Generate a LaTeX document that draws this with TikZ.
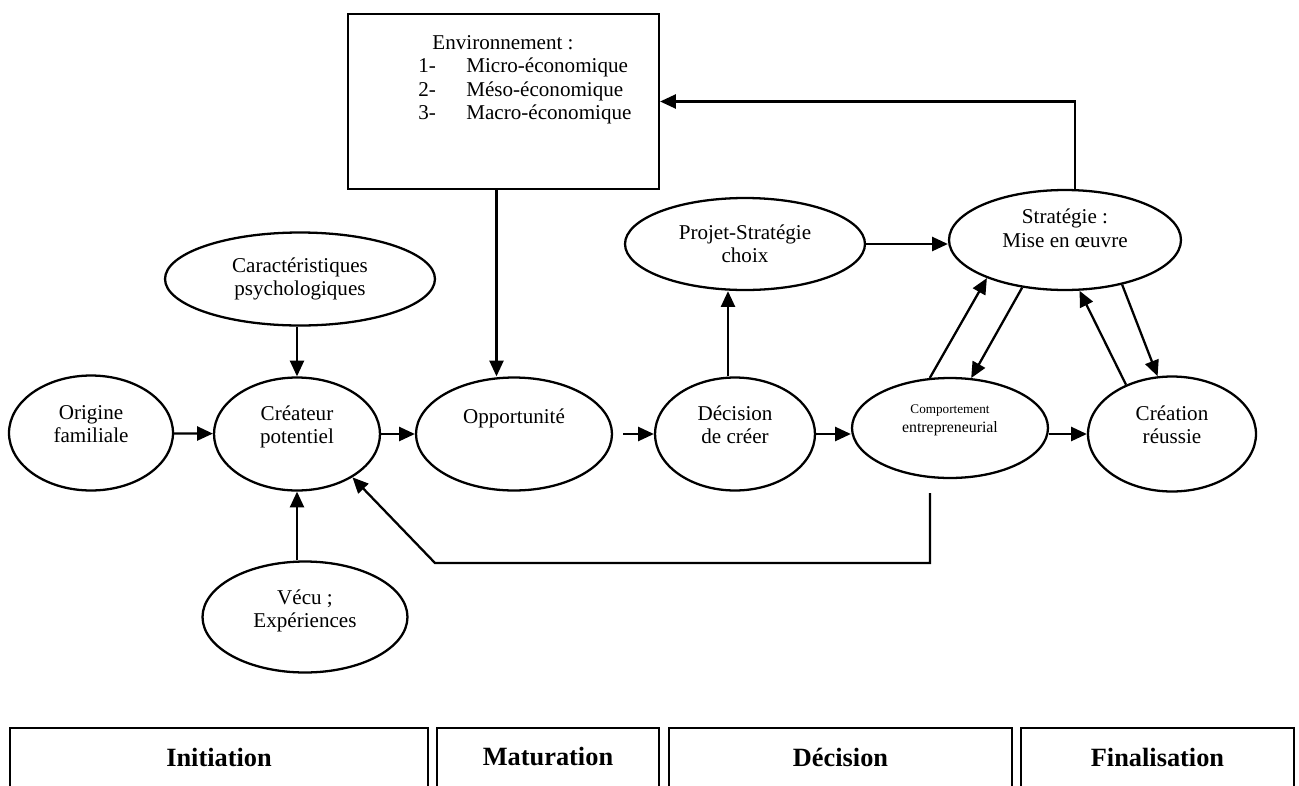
\documentclass[tikz,border=0pt]{standalone}
\usepackage{fontspec}
\setmainfont{Liberation Serif}
\usetikzlibrary{shapes.geometric,arrows.meta,calc}
\def\ovalnode{\node[oval]}
\tikzset{
  oval/.style={ellipse,draw,line width=1.3pt,inner sep=0pt,align=center},
  arr/.style={-{Triangle[length=9pt,width=8pt]},line width=1.3pt},
  phase/.style={font=\fontsize{15}{17}\selectfont\bfseries}
}

\begin{document}
\begin{tikzpicture}[x=0.02cm,y=-0.02cm,font=\fontsize{12}{13.3}\selectfont]
\useasboundingbox (0,0) rectangle (1299,785);
% environment box
\node[draw,line width=1.3pt,minimum width=6.22cm,minimum height=3.5cm] (env) at (503.5,101.5) {};
\node[anchor=base,inner sep=0pt] (envtitle) at (503,49) {Environnement :};
\foreach \n/\t in {1/Micro-économique,2/Méso-économique,3/Macro-économique}{
  \node[anchor=base west,inner sep=0pt] (num\n) at (418,49+23.5*\n) {\n-};
  \node[anchor=base west,inner sep=0pt] (item\n) at (466,49+23.5*\n) {\t};
}
% ovals (the trailing \mbox{} lines lift the text a little)
\ovalnode (orig) at (91,433) [minimum width=3.28cm,minimum height=2.30cm] {Origine\\familiale\\[-3pt]\mbox{}};
\ovalnode (createur) at (297,434) [minimum width=3.32cm,minimum height=2.26cm] {Créateur\\potentiel\\[-3pt]\mbox{}};
\ovalnode (caract) at (300,279) [minimum width=5.40cm,minimum height=1.86cm] {Caractéristiques\\psychologiques};
\ovalnode (vecu) at (305,617) [minimum width=4.10cm,minimum height=2.22cm] {Vécu ;\\Expériences\\[-3.5pt]\mbox{}};
\ovalnode (opp) at (514,434) [minimum width=3.92cm,minimum height=2.26cm] {Opportunité\\[6.7pt]\mbox{}};
\ovalnode (decision) at (735,434) [minimum width=3.20cm,minimum height=2.26cm] {Décision\\de créer\\[-3pt]\mbox{}};
\ovalnode (comport) at (950,428) [minimum width=3.92cm,minimum height=2.00cm]
  {{\fontsize{7.5}{9}\selectfont Comportement}\\[-2.5pt]{\fontsize{9}{10}\selectfont entrepreneurial}\\[-2.8pt]\mbox{}};
\ovalnode (creation) at (1172,434) [minimum width=3.36cm,minimum height=2.30cm] {Création\\réussie\\[-3pt]\mbox{}};
\ovalnode (projet) at (745,244) [minimum width=4.80cm,minimum height=1.84cm] {Projet-Stratégie\\choix};
\ovalnode (strategie) at (1065,240) [minimum width=4.64cm,minimum height=2.00cm] {Stratégie :\\Mise en œuvre\\\mbox{}};
% main row
\draw[arr] (orig) -- (createur);
\draw[arr] (createur) -- (opp);
\draw[arr,shorten <=0.2cm] (opp) -- (decision);
\draw[arr] (decision.east) -- (decision.east -| comport.west);
\draw[arr] (comport.east |- creation.west) -- (creation.west);
% vertical arrows
\draw[arr] (createur.north |- caract.south) -- (createur.north);
\draw[arr] (createur.south |- vecu.north) -- (createur.south);
\draw[arr] ([xshift=-0.14cm]env.south) -- ([xshift=-0.14cm]env.south |- opp.north);
\draw[arr] ([xshift=-0.14cm]decision.north) -- ([xshift=-0.14cm]decision.north |- projet.south);
\draw[arr] (projet.east) -- (projet.east -| strategie.west);
\draw[arr] ([xshift=0.2cm]strategie.north) |- (env.east);
% strategy loops
\draw[arr] (comport.112) -- (strategie.206);
\draw[arr] (strategie.228) -- (comport.67);
\draw[arr] (creation.133) -- (strategie.286);
\draw[arr] (strategie.322) -- (creation.104);
% feedback
\coordinate (fbcorner) at (435,563);
\draw[arr] ([xshift=-0.4cm,yshift=-0.28cm]comport.south) |- (fbcorner) -- (createur.322);
% phases
\foreach \l/\r/\t [count=\i] in {10/428/Initiation,437/659/Maturation,669/1012/Décision,1021/1294/Finalisation}{
  \draw[line width=0.6pt] (\l,790) -- (\l,728) -- (\r,728) -- (\r,790);
  \draw[line width=1.6pt] (\l,728) -- (\r,728);
  \node[phase] (phase\i) at ({(\l+\r)/2},757) {\t};
}
\end{tikzpicture}
\end{document}
